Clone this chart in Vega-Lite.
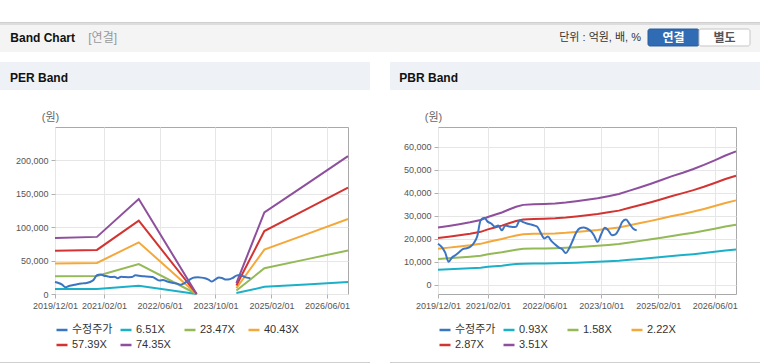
{
  "$schema": "https://vega.github.io/schema/vega-lite/v6.json",
  "padding": {"top": 22, "left": 0, "right": 0, "bottom": 0},
  "background": "#ffffff",
  "spacing": 10,
  "resolve": {"scale": {"color": "independent"}, "legend": {"color": "independent"}},
  "config": {
    "font": "Liberation Sans, Noto Sans CJK KR, sans-serif",
    "view": {"stroke": null},
    "axis": {
      "labelFont": "Liberation Sans, Noto Sans CJK KR, sans-serif",
      "labelFontSize": 9,
      "labelColor": "#555555",
      "gridColor": "#e6e6e6",
      "tickColor": "#b0b0b0",
      "tickSize": 4,
      "labelPadding": 3,
      "domain": false,
      "titleFont": "Liberation Sans, Noto Sans CJK KR, sans-serif",
      "titleFontWeight": "normal",
      "titleFontSize": 11,
      "titleColor": "#666666",
      "labelFlush": false,
      "labelOverlap": false
    },
    "legend": {
      "orient": "bottom",
      "direction": "horizontal",
      "columns": 4,
      "gridAlign": "all",
      "symbolType": "stroke",
      "symbolStrokeWidth": 2.5,
      "symbolSize": 121,
      "labelFont": "Liberation Sans, Noto Sans CJK KR, sans-serif",
      "labelFontSize": 11,
      "labelColor": "#333333",
      "labelOffset": 3,
      "columnPadding": 2,
      "rowPadding": 3,
      "offset": 13
    },
    "title": {"font": "Liberation Sans, Noto Sans CJK KR, sans-serif"}
  },
  "datasets": {
    "price": [
      {"d": "2019-12-01", "s": "수정주가", "v": 17900},
      {"d": "2020-01-01", "s": "수정주가", "v": 16500},
      {"d": "2020-02-01", "s": "수정주가", "v": 14000},
      {"d": "2020-03-01", "s": "수정주가", "v": 10000},
      {"d": "2020-04-01", "s": "수정주가", "v": 12000},
      {"d": "2020-05-01", "s": "수정주가", "v": 13000},
      {"d": "2020-06-01", "s": "수정주가", "v": 14300},
      {"d": "2020-07-01", "s": "수정주가", "v": 15500},
      {"d": "2020-08-01", "s": "수정주가", "v": 15900},
      {"d": "2020-09-01", "s": "수정주가", "v": 16500},
      {"d": "2020-10-01", "s": "수정주가", "v": 18000},
      {"d": "2020-11-01", "s": "수정주가", "v": 21000},
      {"d": "2020-12-01", "s": "수정주가", "v": 28100},
      {"d": "2021-01-01", "s": "수정주가", "v": 29200},
      {"d": "2021-02-01", "s": "수정주가", "v": 27400},
      {"d": "2021-03-01", "s": "수정주가", "v": 26700},
      {"d": "2021-04-01", "s": "수정주가", "v": 25300},
      {"d": "2021-05-01", "s": "수정주가", "v": 25800},
      {"d": "2021-06-01", "s": "수정주가", "v": 23700},
      {"d": "2021-07-01", "s": "수정주가", "v": 25800},
      {"d": "2021-08-01", "s": "수정주가", "v": 25400},
      {"d": "2021-09-01", "s": "수정주가", "v": 25200},
      {"d": "2021-10-01", "s": "수정주가", "v": 25300},
      {"d": "2021-11-01", "s": "수정주가", "v": 28000},
      {"d": "2021-12-01", "s": "수정주가", "v": 27300},
      {"d": "2022-01-01", "s": "수정주가", "v": 26700},
      {"d": "2022-02-01", "s": "수정주가", "v": 26300},
      {"d": "2022-03-01", "s": "수정주가", "v": 25900},
      {"d": "2022-04-01", "s": "수정주가", "v": 25300},
      {"d": "2022-05-01", "s": "수정주가", "v": 22500},
      {"d": "2022-06-01", "s": "수정주가", "v": 20200},
      {"d": "2022-07-01", "s": "수정주가", "v": 21000},
      {"d": "2022-08-01", "s": "수정주가", "v": 19000},
      {"d": "2022-09-01", "s": "수정주가", "v": 17500},
      {"d": "2022-10-01", "s": "수정주가", "v": 16300},
      {"d": "2022-11-01", "s": "수정주가", "v": 15500},
      {"d": "2022-12-01", "s": "수정주가", "v": 13800},
      {"d": "2023-01-01", "s": "수정주가", "v": 16000},
      {"d": "2023-02-01", "s": "수정주가", "v": 19500},
      {"d": "2023-03-01", "s": "수정주가", "v": 22800},
      {"d": "2023-04-01", "s": "수정주가", "v": 24600},
      {"d": "2023-05-01", "s": "수정주가", "v": 24900},
      {"d": "2023-06-01", "s": "수정주가", "v": 24500},
      {"d": "2023-07-01", "s": "수정주가", "v": 23500},
      {"d": "2023-08-01", "s": "수정주가", "v": 21500},
      {"d": "2023-09-01", "s": "수정주가", "v": 18700},
      {"d": "2023-10-01", "s": "수정주가", "v": 22000},
      {"d": "2023-11-01", "s": "수정주가", "v": 24800},
      {"d": "2023-12-01", "s": "수정주가", "v": 23700},
      {"d": "2024-01-01", "s": "수정주가", "v": 21600},
      {"d": "2024-02-01", "s": "수정주가", "v": 22000},
      {"d": "2024-03-01", "s": "수정주가", "v": 24200},
      {"d": "2024-04-01", "s": "수정주가", "v": 27500},
      {"d": "2024-05-01", "s": "수정주가", "v": 28400},
      {"d": "2024-06-01", "s": "수정주가", "v": 26500},
      {"d": "2024-07-01", "s": "수정주가", "v": 24500},
      {"d": "2024-08-01", "s": "수정주가", "v": 23700}
    ],
    "per": [
      {"d": "2019-12-01", "s": "6.51X", "v": 7356},
      {"d": "2020-12-01", "s": "6.51X", "v": 7487},
      {"d": "2021-12-01", "s": "6.51X", "v": 12454},
      {"d": "2023-04-20", "s": "6.51X", "v": 0},
      {"d": "2023-10-01", "s": "6.51X", "v": null},
      {"d": "2024-04-01", "s": "6.51X", "v": 1432},
      {"d": "2024-12-01", "s": "6.51X", "v": 10683},
      {"d": "2025-12-01", "s": "6.51X", "v": 14374},
      {"d": "2026-12-01", "s": "6.51X", "v": 18072},
      {"d": "2019-12-01", "s": "23.47X", "v": 26521},
      {"d": "2020-12-01", "s": "23.47X", "v": 26991},
      {"d": "2021-12-01", "s": "23.47X", "v": 44898},
      {"d": "2023-04-20", "s": "23.47X", "v": 0},
      {"d": "2023-10-01", "s": "23.47X", "v": null},
      {"d": "2024-04-01", "s": "23.47X", "v": 5163},
      {"d": "2024-12-01", "s": "23.47X", "v": 38514},
      {"d": "2025-12-01", "s": "23.47X", "v": 51822},
      {"d": "2026-12-01", "s": "23.47X", "v": 65153},
      {"d": "2019-12-01", "s": "40.43X", "v": 45686},
      {"d": "2020-12-01", "s": "40.43X", "v": 46495},
      {"d": "2021-12-01", "s": "40.43X", "v": 77343},
      {"d": "2023-04-20", "s": "40.43X", "v": 0},
      {"d": "2023-10-01", "s": "40.43X", "v": null},
      {"d": "2024-04-01", "s": "40.43X", "v": 8895},
      {"d": "2024-12-01", "s": "40.43X", "v": 66346},
      {"d": "2025-12-01", "s": "40.43X", "v": 89269},
      {"d": "2026-12-01", "s": "40.43X", "v": 112234},
      {"d": "2019-12-01", "s": "57.39X", "v": 64851},
      {"d": "2020-12-01", "s": "57.39X", "v": 65999},
      {"d": "2021-12-01", "s": "57.39X", "v": 109787},
      {"d": "2023-04-20", "s": "57.39X", "v": 0},
      {"d": "2023-10-01", "s": "57.39X", "v": null},
      {"d": "2024-04-01", "s": "57.39X", "v": 12626},
      {"d": "2024-12-01", "s": "57.39X", "v": 94177},
      {"d": "2025-12-01", "s": "57.39X", "v": 126717},
      {"d": "2026-12-01", "s": "57.39X", "v": 159315},
      {"d": "2019-12-01", "s": "74.35X", "v": 84016},
      {"d": "2020-12-01", "s": "74.35X", "v": 85503},
      {"d": "2021-12-01", "s": "74.35X", "v": 142232},
      {"d": "2023-04-20", "s": "74.35X", "v": 0},
      {"d": "2023-10-01", "s": "74.35X", "v": null},
      {"d": "2024-04-01", "s": "74.35X", "v": 16357},
      {"d": "2024-12-01", "s": "74.35X", "v": 122008},
      {"d": "2025-12-01", "s": "74.35X", "v": 164165},
      {"d": "2026-12-01", "s": "74.35X", "v": 206396}
    ],
    "pbr": [
      {"d": "2019-12-01", "s": "0.93X", "v": 6597}, {"d": "2019-12-01", "s": "1.58X", "v": 11209}, {"d": "2019-12-01", "s": "2.22X", "v": 15749}, {"d": "2019-12-01", "s": "2.87X", "v": 20360}, {"d": "2019-12-01", "s": "3.51X", "v": 24900},
      {"d": "2020-03-01", "s": "0.93X", "v": 6782}, {"d": "2020-03-01", "s": "1.58X", "v": 11523}, {"d": "2020-03-01", "s": "2.22X", "v": 16190}, {"d": "2020-03-01", "s": "2.87X", "v": 20931}, {"d": "2020-03-01", "s": "3.51X", "v": 25598},
      {"d": "2020-06-01", "s": "0.93X", "v": 6995}, {"d": "2020-06-01", "s": "1.58X", "v": 11883}, {"d": "2020-06-01", "s": "2.22X", "v": 16697}, {"d": "2020-06-01", "s": "2.87X", "v": 21585}, {"d": "2020-06-01", "s": "3.51X", "v": 26399},
      {"d": "2020-09-01", "s": "0.93X", "v": 7207}, {"d": "2020-09-01", "s": "1.58X", "v": 12243}, {"d": "2020-09-01", "s": "2.22X", "v": 17203}, {"d": "2020-09-01", "s": "2.87X", "v": 22240}, {"d": "2020-09-01", "s": "3.51X", "v": 27199},
      {"d": "2020-12-01", "s": "0.93X", "v": 7472}, {"d": "2020-12-01", "s": "1.58X", "v": 12694}, {"d": "2020-12-01", "s": "2.22X", "v": 17835}, {"d": "2020-12-01", "s": "2.87X", "v": 23058}, {"d": "2020-12-01", "s": "3.51X", "v": 28199},
      {"d": "2021-02-01", "s": "0.93X", "v": 7817}, {"d": "2021-02-01", "s": "1.58X", "v": 13280}, {"d": "2021-02-01", "s": "2.22X", "v": 18659}, {"d": "2021-02-01", "s": "2.87X", "v": 24122}, {"d": "2021-02-01", "s": "3.51X", "v": 29502},
      {"d": "2021-04-01", "s": "0.93X", "v": 8081}, {"d": "2021-04-01", "s": "1.58X", "v": 13729}, {"d": "2021-04-01", "s": "2.22X", "v": 19290}, {"d": "2021-04-01", "s": "2.87X", "v": 24937}, {"d": "2021-04-01", "s": "3.51X", "v": 30498},
      {"d": "2021-06-01", "s": "0.93X", "v": 8346}, {"d": "2021-06-01", "s": "1.58X", "v": 14179}, {"d": "2021-06-01", "s": "2.22X", "v": 19922}, {"d": "2021-06-01", "s": "2.87X", "v": 25755}, {"d": "2021-06-01", "s": "3.51X", "v": 31499},
      {"d": "2021-08-01", "s": "0.93X", "v": 8691}, {"d": "2021-08-01", "s": "1.58X", "v": 14765}, {"d": "2021-08-01", "s": "2.22X", "v": 20746}, {"d": "2021-08-01", "s": "2.87X", "v": 26820}, {"d": "2021-08-01", "s": "3.51X", "v": 32801},
      {"d": "2021-10-01", "s": "0.93X", "v": 9009}, {"d": "2021-10-01", "s": "1.58X", "v": 15305}, {"d": "2021-10-01", "s": "2.22X", "v": 21505}, {"d": "2021-10-01", "s": "2.87X", "v": 27802}, {"d": "2021-10-01", "s": "3.51X", "v": 34001},
      {"d": "2021-12-01", "s": "0.93X", "v": 9221}, {"d": "2021-12-01", "s": "1.58X", "v": 15666}, {"d": "2021-12-01", "s": "2.22X", "v": 22011}, {"d": "2021-12-01", "s": "2.87X", "v": 28456}, {"d": "2021-12-01", "s": "3.51X", "v": 34802},
      {"d": "2022-03-01", "s": "0.93X", "v": 9300}, {"d": "2022-03-01", "s": "1.58X", "v": 15800}, {"d": "2022-03-01", "s": "2.22X", "v": 22200}, {"d": "2022-03-01", "s": "2.87X", "v": 28700}, {"d": "2022-03-01", "s": "3.51X", "v": 35100},
      {"d": "2022-06-01", "s": "0.93X", "v": 9326}, {"d": "2022-06-01", "s": "1.58X", "v": 15844}, {"d": "2022-06-01", "s": "2.22X", "v": 22262}, {"d": "2022-06-01", "s": "2.87X", "v": 28780}, {"d": "2022-06-01", "s": "3.51X", "v": 35198},
      {"d": "2022-09-01", "s": "0.93X", "v": 9379}, {"d": "2022-09-01", "s": "1.58X", "v": 15934}, {"d": "2022-09-01", "s": "2.22X", "v": 22389}, {"d": "2022-09-01", "s": "2.87X", "v": 28944}, {"d": "2022-09-01", "s": "3.51X", "v": 35398},
      {"d": "2022-12-01", "s": "0.93X", "v": 9485}, {"d": "2022-12-01", "s": "1.58X", "v": 16114}, {"d": "2022-12-01", "s": "2.22X", "v": 22642}, {"d": "2022-12-01", "s": "2.87X", "v": 29271}, {"d": "2022-12-01", "s": "3.51X", "v": 35798},
      {"d": "2023-03-01", "s": "0.93X", "v": 9644}, {"d": "2023-03-01", "s": "1.58X", "v": 16385}, {"d": "2023-03-01", "s": "2.22X", "v": 23021}, {"d": "2023-03-01", "s": "2.87X", "v": 29762}, {"d": "2023-03-01", "s": "3.51X", "v": 36399},
      {"d": "2023-06-01", "s": "0.93X", "v": 9803}, {"d": "2023-06-01", "s": "1.58X", "v": 16655}, {"d": "2023-06-01", "s": "2.22X", "v": 23401}, {"d": "2023-06-01", "s": "2.87X", "v": 30253}, {"d": "2023-06-01", "s": "3.51X", "v": 36999},
      {"d": "2023-09-01", "s": "0.93X", "v": 9989}, {"d": "2023-09-01", "s": "1.58X", "v": 16971}, {"d": "2023-09-01", "s": "2.22X", "v": 23845}, {"d": "2023-09-01", "s": "2.87X", "v": 30827}, {"d": "2023-09-01", "s": "3.51X", "v": 37701},
      {"d": "2023-12-01", "s": "0.93X", "v": 10227}, {"d": "2023-12-01", "s": "1.58X", "v": 17375}, {"d": "2023-12-01", "s": "2.22X", "v": 24413}, {"d": "2023-12-01", "s": "2.87X", "v": 31561}, {"d": "2023-12-01", "s": "3.51X", "v": 38599},
      {"d": "2024-03-01", "s": "0.93X", "v": 10466}, {"d": "2024-03-01", "s": "1.58X", "v": 17781}, {"d": "2024-03-01", "s": "2.22X", "v": 24984}, {"d": "2024-03-01", "s": "2.87X", "v": 32299}, {"d": "2024-03-01", "s": "3.51X", "v": 39502},
      {"d": "2024-06-01", "s": "0.93X", "v": 10863}, {"d": "2024-06-01", "s": "1.58X", "v": 18456}, {"d": "2024-06-01", "s": "2.22X", "v": 25932}, {"d": "2024-06-01", "s": "2.87X", "v": 33524}, {"d": "2024-06-01", "s": "3.51X", "v": 41000},
      {"d": "2024-09-01", "s": "0.93X", "v": 11260}, {"d": "2024-09-01", "s": "1.58X", "v": 19131}, {"d": "2024-09-01", "s": "2.22X", "v": 26880}, {"d": "2024-09-01", "s": "2.87X", "v": 34750}, {"d": "2024-09-01", "s": "3.51X", "v": 42499},
      {"d": "2024-12-01", "s": "0.93X", "v": 11658}, {"d": "2024-12-01", "s": "1.58X", "v": 19807}, {"d": "2024-12-01", "s": "2.22X", "v": 27830}, {"d": "2024-12-01", "s": "2.87X", "v": 35978}, {"d": "2024-12-01", "s": "3.51X", "v": 44001},
      {"d": "2025-03-01", "s": "0.93X", "v": 12082}, {"d": "2025-03-01", "s": "1.58X", "v": 20526}, {"d": "2025-03-01", "s": "2.22X", "v": 28840}, {"d": "2025-03-01", "s": "2.87X", "v": 37284}, {"d": "2025-03-01", "s": "3.51X", "v": 45598},
      {"d": "2025-06-01", "s": "0.93X", "v": 12533}, {"d": "2025-06-01", "s": "1.58X", "v": 21292}, {"d": "2025-06-01", "s": "2.22X", "v": 29917}, {"d": "2025-06-01", "s": "2.87X", "v": 38676}, {"d": "2025-06-01", "s": "3.51X", "v": 47301},
      {"d": "2025-09-01", "s": "0.93X", "v": 12930}, {"d": "2025-09-01", "s": "1.58X", "v": 21967}, {"d": "2025-09-01", "s": "2.22X", "v": 30865}, {"d": "2025-09-01", "s": "2.87X", "v": 39902}, {"d": "2025-09-01", "s": "3.51X", "v": 48800},
      {"d": "2025-12-01", "s": "0.93X", "v": 13354}, {"d": "2025-12-01", "s": "1.58X", "v": 22687}, {"d": "2025-12-01", "s": "2.22X", "v": 31877}, {"d": "2025-12-01", "s": "2.87X", "v": 41210}, {"d": "2025-12-01", "s": "3.51X", "v": 50400},
      {"d": "2026-03-01", "s": "0.93X", "v": 13831}, {"d": "2026-03-01", "s": "1.58X", "v": 23498}, {"d": "2026-03-01", "s": "2.22X", "v": 33016}, {"d": "2026-03-01", "s": "2.87X", "v": 42683}, {"d": "2026-03-01", "s": "3.51X", "v": 52201},
      {"d": "2026-06-01", "s": "0.93X", "v": 14361}, {"d": "2026-06-01", "s": "1.58X", "v": 24398}, {"d": "2026-06-01", "s": "2.22X", "v": 34281}, {"d": "2026-06-01", "s": "2.87X", "v": 44319}, {"d": "2026-06-01", "s": "3.51X", "v": 54201},
      {"d": "2026-09-01", "s": "0.93X", "v": 14917}, {"d": "2026-09-01", "s": "1.58X", "v": 25343}, {"d": "2026-09-01", "s": "2.22X", "v": 35609}, {"d": "2026-09-01", "s": "2.87X", "v": 46035}, {"d": "2026-09-01", "s": "3.51X", "v": 56300},
      {"d": "2026-12-01", "s": "0.93X", "v": 15394}, {"d": "2026-12-01", "s": "1.58X", "v": 26154}, {"d": "2026-12-01", "s": "2.22X", "v": 36748}, {"d": "2026-12-01", "s": "2.87X", "v": 47507}, {"d": "2026-12-01", "s": "3.51X", "v": 58101}
    ]
  },
  "vconcat": [
    {
      "spacing": 0,
      "bounds": "flush",
      "vconcat": [
        {"width": 760, "height": 1, "data": {"values": []}, "mark": "point", "view": {"fill": "#cfcfcf", "stroke": null}},
        {
          "hconcat": [
            {"width": 88, "height": 29, "data": {"values": []}, "mark": "point", "view": {"fill": "#f4f4f4", "stroke": null},
             "title": {"text": "Band Chart", "orient": "left", "angle": 0, "anchor": "middle", "align": "left", "baseline": "middle", "offset": -75, "fontSize": 12, "fontWeight": "bold", "color": "#111111"}},
            {"width": 560, "height": 29, "data": {"values": []}, "mark": "point", "view": {"fill": "#f4f4f4", "stroke": null},
             "title": {"text": "[연결]", "orient": "left", "angle": 0, "anchor": "middle", "align": "left", "baseline": "middle", "offset": -29, "fontSize": 12, "fontWeight": "normal", "color": "#999999"}},
            {"width": 112, "height": 29, "view": {"fill": "#f4f4f4", "stroke": null},
             "data": {"values": [{"b": "연결"}, {"b": "별도"}]},
             "title": {"text": "단위 : 억원, 배, %", "orient": "left", "angle": 0, "align": "left", "baseline": "middle", "anchor": "middle", "offset": 6.5, "fontSize": 11, "fontWeight": "normal", "color": "#333333"},
             "encoding": {
               "x": {"field": "b", "type": "nominal", "sort": ["연결", "별도"], "scale": {"paddingInner": 0, "paddingOuter": 0.098, "align": 0}, "axis": null},
               "y": {"datum": "btn", "type": "nominal", "scale": {"paddingOuter": 0.32}, "axis": null}
             },
             "layer": [
               {"mark": {"type": "bar", "cornerRadius": 2, "strokeWidth": 1},
                "encoding": {
                  "fill": {"field": "b", "type": "nominal", "scale": {"domain": ["연결", "별도"], "range": ["#2f6cb3", "#ffffff"]}, "legend": null},
                  "stroke": {"field": "b", "type": "nominal", "scale": {"domain": ["연결", "별도"], "range": ["#285c9c", "#c6c6c6"]}, "legend": null}
                }},
               {"mark": {"type": "text", "fontSize": 12, "fontWeight": "bold"},
                "encoding": {
                  "text": {"field": "b"},
                  "color": {"field": "b", "type": "nominal", "scale": {"domain": ["연결", "별도"], "range": ["#ffffff", "#555555"]}, "legend": null}
                }}
             ]}
          ],
          "spacing": 0,
          "bounds": "flush"
        },
        {"width": 760, "height": 2, "data": {"values": []}, "mark": "point", "view": {"fill": "#dddddd", "stroke": null}}
      ]
    },
    {
      "spacing": 20,
      "resolve": {"scale": {"color": "independent"}, "legend": {"color": "independent"}},
      "vconcat": [
        {
          "spacing": 0,
          "bounds": "flush",
          "vconcat": [
            {"hconcat": [
              {"width": 370, "height": 1, "data": {"values": []}, "mark": "point", "view": {"fill": "#d8d8d8", "stroke": null}},
              {"width": 370, "height": 1, "data": {"values": []}, "mark": "point", "view": {"fill": "#d8d8d8", "stroke": null}}
            ], "spacing": 20, "bounds": "flush"},
            {"hconcat": [
              {"width": 370, "height": 28, "data": {"values": []}, "mark": "point", "view": {"fill": "#eef2f7", "stroke": null},
               "title": {"text": "PER Band", "orient": "left", "angle": 0, "anchor": "middle", "align": "left", "baseline": "middle", "offset": -68, "dy": 2, "fontSize": 12, "fontWeight": "bold", "color": "#111111"}},
              {"width": 370, "height": 28, "data": {"values": []}, "mark": "point", "view": {"fill": "#eef2f7", "stroke": null},
               "title": {"text": "PBR Band", "orient": "left", "angle": 0, "anchor": "middle", "align": "left", "baseline": "middle", "offset": -68, "dy": 2, "fontSize": 12, "fontWeight": "bold", "color": "#111111"}}
            ], "spacing": 20, "bounds": "flush"}
          ]
        },
        {
          "spacing": 11,
          "resolve": {"scale": {"color": "independent"}, "legend": {"color": "independent"}},
          "vconcat": [
            {
              "spacing": 35,
              "resolve": {"scale": {"color": "independent"}, "legend": {"color": "independent"}},
              "hconcat": [
                {
                  "spacing": 0,
                  "resolve": {"scale": {"color": "independent"}, "legend": {"color": "independent"}},
                  "hconcat": [
                    {"width": 1, "height": 1, "data": {"values": []}, "mark": "point"},
                    {
                      "width": 293,
                      "height": 167,
                      "view": {"stroke": "#a9a9a9", "fill": "#ffffff"},
                      "encoding": {
                        "x": {"field": "d", "type": "temporal",
                              "scale": {"type": "utc", "domain": [{"year": 2019, "month": 12, "date": 1, "utc": true}, {"year": 2026, "month": 12, "date": 1, "utc": true}]},
                              "axis": {"title": null, "format": "%Y/%m/%d", "grid": true,
                                       "values": [{"year": 2019, "month": 12, "date": 1, "utc": true}, {"year": 2021, "month": 2, "date": 1, "utc": true}, {"year": 2022, "month": 6, "date": 1, "utc": true}, {"year": 2023, "month": 10, "date": 1, "utc": true}, {"year": 2025, "month": 2, "date": 1, "utc": true}, {"year": 2026, "month": 6, "date": 1, "utc": true}]}},
                        "y": {"field": "v", "type": "quantitative",
                              "scale": {"domain": [0, 250000], "nice": false},
                              "axis": {"values": [0, 50000, 100000, 150000, 200000], "title": "(원)", "titleAngle": 0, "titleX": -5, "titleY": -10, "titleAlign": "center", "titleBaseline": "middle", "minExtent": 53, "maxExtent": 53, "grid": true}},
                        "color": {"field": "s", "type": "nominal",
                                  "scale": {"domain": ["수정주가", "6.51X", "23.47X", "40.43X", "57.39X", "74.35X"], "range": ["#3b74c2", "#1cb0c8", "#94b957", "#f4a83a", "#d13431", "#8e4f9d"]},
                                  "legend": {"title": null}}
                      },
                      "layer": [
                        {"data": {"name": "per"}, "mark": {"type": "line", "strokeWidth": 2}},
                        {"data": {"name": "price"}, "mark": {"type": "line", "strokeWidth": 2, "interpolate": "monotone"}}
                      ]
                    }
                  ]
                },
                {
                  "width": 298,
                  "height": 167,
                  "view": {"stroke": "#a9a9a9", "fill": "#ffffff"},
                  "encoding": {
                    "x": {"field": "d", "type": "temporal",
                          "scale": {"type": "utc", "domain": [{"year": 2019, "month": 12, "date": 1, "utc": true}, {"year": 2026, "month": 12, "date": 1, "utc": true}]},
                          "axis": {"title": null, "format": "%Y/%m/%d", "grid": true,
                                   "values": [{"year": 2019, "month": 12, "date": 1, "utc": true}, {"year": 2021, "month": 2, "date": 1, "utc": true}, {"year": 2022, "month": 6, "date": 1, "utc": true}, {"year": 2023, "month": 10, "date": 1, "utc": true}, {"year": 2025, "month": 2, "date": 1, "utc": true}, {"year": 2026, "month": 6, "date": 1, "utc": true}]}},
                    "y": {"field": "v", "type": "quantitative",
                          "scale": {"domain": [-4000, 68700], "nice": false, "zero": false},
                          "axis": {"values": [0, 10000, 20000, 30000, 40000, 50000, 60000], "title": "(원)", "titleAngle": 0, "titleX": -5, "titleY": -10, "titleAlign": "center", "titleBaseline": "middle", "minExtent": 49, "maxExtent": 49, "grid": true}},
                    "color": {"field": "s", "type": "nominal",
                              "scale": {"domain": ["수정주가", "0.93X", "1.58X", "2.22X", "2.87X", "3.51X"], "range": ["#3b74c2", "#1cb0c8", "#94b957", "#f4a83a", "#d13431", "#8e4f9d"]},
                              "legend": {"title": null}}
                  },
                  "layer": [
                    {"data": {"name": "pbr"}, "mark": {"type": "line", "strokeWidth": 2}},
                    {"data": {"name": "price"}, "mark": {"type": "line", "strokeWidth": 2, "interpolate": "monotone"}}
                  ]
                }
              ]
            },
            {"hconcat": [
              {"width": 370, "height": 1, "data": {"values": []}, "mark": "point", "view": {"fill": "#cfcfcf", "stroke": null}},
              {"width": 370, "height": 1, "data": {"values": []}, "mark": "point", "view": {"fill": "#cfcfcf", "stroke": null}}
            ], "spacing": 20, "bounds": "flush"}
          ]
        }
      ]
    }
  ]
}
